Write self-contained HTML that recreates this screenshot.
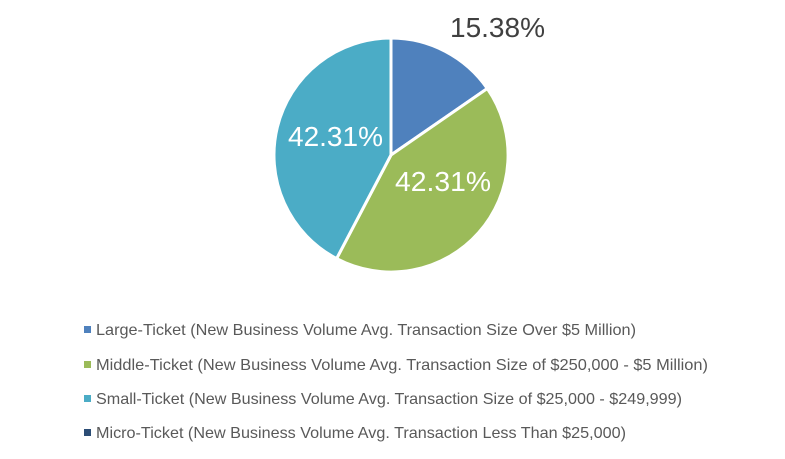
<!DOCTYPE html>
<html><head><style>body{margin:0;background:#fff}</style></head><body>
<svg width="785" height="454" xmlns="http://www.w3.org/2000/svg" font-family="Liberation Sans, sans-serif">
<g stroke="#fff" stroke-width="3" stroke-linejoin="round">
<path d="M391,155 L391,38 A117,117 0 0 1 487.3,88.5 Z" fill="#4f81bd"/>
<path d="M391,155 L487.3,88.5 A117,117 0 0 1 336.6,258.6 Z" fill="#9bbb59"/>
<path d="M391,155 L336.6,258.6 A117,117 0 0 1 391,38 Z" fill="#4bacc6"/>
</g>
<text x="450" y="37" font-size="28" fill="#404040" textLength="95" lengthAdjust="spacingAndGlyphs">15.38%</text>
<text x="288" y="146" font-size="28" fill="#fff" textLength="95" lengthAdjust="spacingAndGlyphs">42.31%</text>
<text x="395" y="191" font-size="28" fill="#fff" textLength="96" lengthAdjust="spacingAndGlyphs">42.31%</text>
<g font-size="16" fill="#595959">
<rect x="84" y="326" width="7" height="7" fill="#4f81bd"/>
<text x="96" y="335" textLength="540" lengthAdjust="spacingAndGlyphs">Large-Ticket (New Business Volume Avg. Transaction Size Over $5 Million)</text>
<rect x="84" y="361" width="7" height="7" fill="#9bbb59"/>
<text x="96" y="370" textLength="612" lengthAdjust="spacingAndGlyphs">Middle-Ticket (New Business Volume Avg. Transaction Size of $250,000 - $5 Million)</text>
<rect x="84" y="395" width="7" height="7" fill="#4bacc6"/>
<text x="96" y="404" textLength="586" lengthAdjust="spacingAndGlyphs">Small-Ticket (New Business Volume Avg. Transaction Size of $25,000 - $249,999)</text>
<rect x="84" y="429" width="7" height="7" fill="#2c4d75"/>
<text x="96" y="438" textLength="530" lengthAdjust="spacingAndGlyphs">Micro-Ticket (New Business Volume Avg. Transaction Less Than $25,000)</text>
</g>
</svg>
</body></html>
